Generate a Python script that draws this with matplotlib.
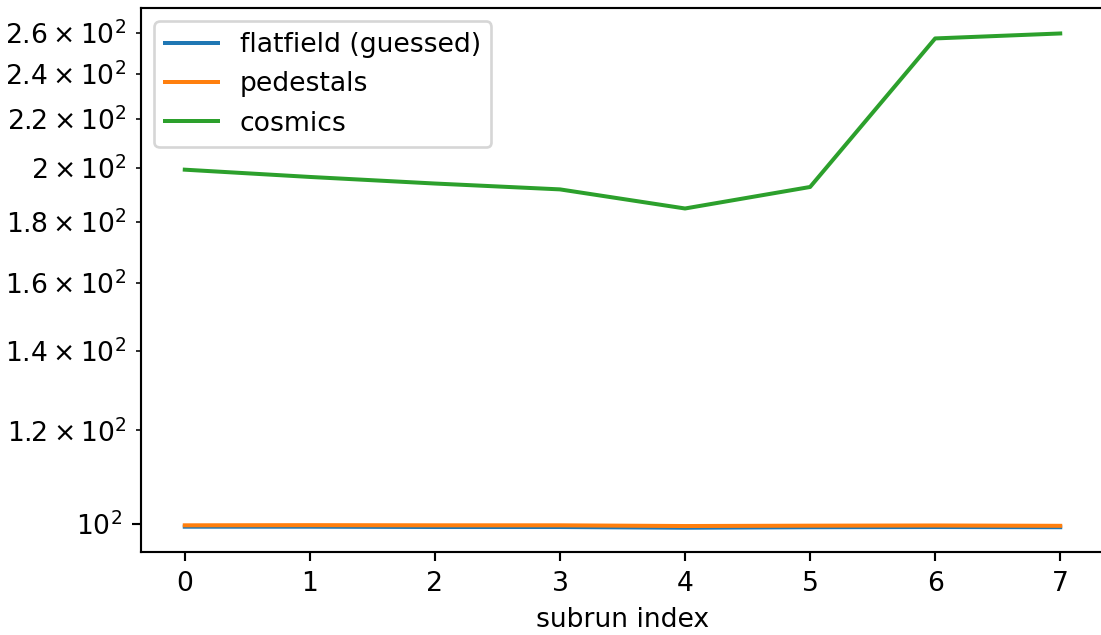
import matplotlib
matplotlib.use("Agg")
import matplotlib.pyplot as plt

subrun = [0, 1, 2, 3, 4, 5, 6, 7]
flatfield = [99.48, 99.48, 99.42, 99.42, 99.28, 99.38, 99.42, 99.38]
pedestals = [99.75, 99.78, 99.75, 99.75, 99.61, 99.68, 99.72, 99.65]
cosmics = [199.3, 196.5, 194.0, 191.8, 184.8, 192.7, 257.3, 259.8]

DPI = 192
fig = plt.figure(figsize=(1101 / DPI, 635 / DPI), dpi=DPI)
ax = fig.add_axes([141 / 1101, (635 - 552) / 635, (1104 - 141) / 1101, (552 - 8) / 635])

ax.plot(subrun, flatfield, label="flatfield (guessed)")
ax.plot(subrun, pedestals, label="pedestals")
ax.plot(subrun, cosmics, label="cosmics")
ax.set_yscale("log")
ax.set_ylim(94.7, 273.0)
ax.set_xlabel("subrun index")
ax.legend(loc="upper left")

fig.savefig("out.png", dpi=DPI)
